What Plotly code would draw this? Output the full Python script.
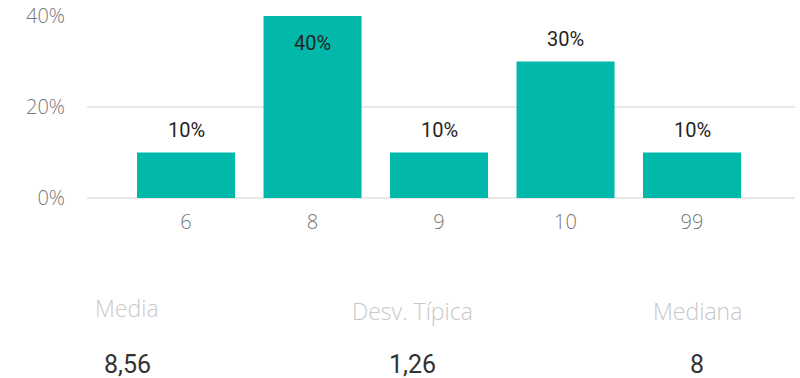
import plotly.graph_objects as go

# Distribution of scores
categories = ["6", "8", "9", "10", "99"]
shares = [0.10, 0.40, 0.10, 0.30, 0.10]
y_ticks = [0, 0.2, 0.4]
y_tick_text = ["0%", "20%", "40%"]

# Summary statistics shown under the chart
stat_names = ["Media", "Desv. Típica", "Mediana"]
stat_values = ["8,56", "1,26", "8"]

BAR_COLOR = "#01B8AA"
LABEL_FONT = "Roboto"
AXIS_FONT = "Open Sans"

W, H = 800, 378
ML, MR, MT, MB = 87, 5, 16, 180
plot_w = W - ML - MR
plot_h = H - MT - MB


def px_to_paper_x(px):
    return (px - ML) / plot_w


def px_to_paper_y(py):
    return (H - MB - py) / plot_h


fig = go.Figure()
fig.add_trace(go.Bar(
    x=categories,
    y=shares,
    marker=dict(color=BAR_COLOR, line=dict(width=0)),
    hoverinfo="skip",
))

# Value labels: the tallest bar carries its label inside, the rest sit above
peak = max(shares)
for i, val in enumerate(shares):
    inside = val == peak
    fig.add_annotation(
        x=i, y=val, xref="x", yref="y",
        text=f"{val * 100:.0f}%",
        showarrow=False,
        xanchor="center", yanchor="middle",
        yshift=-27 if inside else 23,
        font=dict(family=LABEL_FONT, size=20, color="#252423"),
    )

# Statistic captions and values
stat_x = [127, 412, 697]
name_y = [308, 311, 311]
for name, value, sx, ny in zip(stat_names, stat_values, stat_x, name_y):
    fig.add_annotation(
        x=px_to_paper_x(sx), y=px_to_paper_y(ny), xref="paper", yref="paper",
        text=name, showarrow=False, xanchor="center", yanchor="middle",
        font=dict(family=AXIS_FONT, size=23, color="#C8C8C8", weight=300),
    )
    fig.add_annotation(
        x=px_to_paper_x(sx), y=px_to_paper_y(364), xref="paper", yref="paper",
        text=value, showarrow=False, xanchor="center", yanchor="middle",
        font=dict(family=LABEL_FONT, size=25, color="#333333"),
    )

fig.update_layout(
    width=W, height=H,
    margin=dict(l=ML, r=MR, t=MT, b=MB, pad=0, autoexpand=False),
    plot_bgcolor="white", paper_bgcolor="white",
    bargap=0.225,
    showlegend=False,
    xaxis=dict(
        type="category",
        range=[-0.783, 4.814],
        showgrid=False, zeroline=False, showline=False,
        ticks="", ticklabelstandoff=10, automargin=False,
        tickfont=dict(family=AXIS_FONT, size=20, color="#777777", weight=300),
        fixedrange=True,
    ),
    yaxis=dict(
        range=[0, 0.4],
        tickvals=y_ticks, ticktext=y_tick_text,
        showgrid=True, gridcolor="#E8E8E8", gridwidth=1.5,
        zeroline=True, zerolinecolor="#E8E8E8", zerolinewidth=1.5,
        showline=False, ticks="", ticklabelstandoff=21, automargin=False,
        tickfont=dict(family=AXIS_FONT, size=20, color="#777777", weight=300),
        fixedrange=True,
    ),
)

fig.write_html("out.html")
